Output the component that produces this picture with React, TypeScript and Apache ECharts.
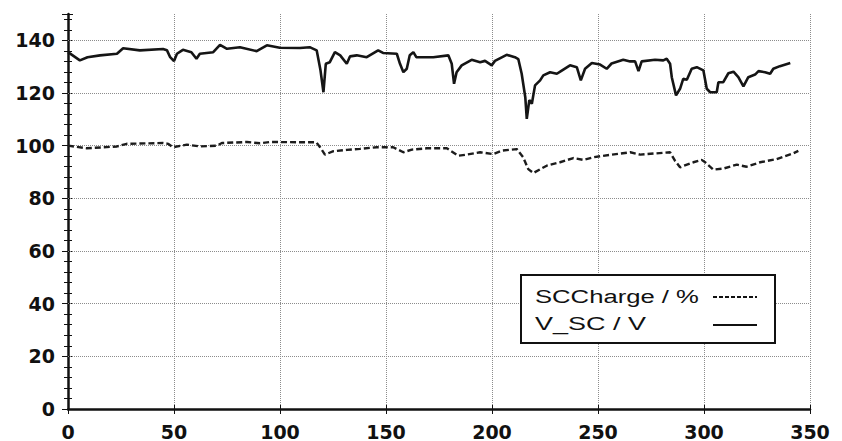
import React, { useEffect, useRef } from "react";
import * as echarts from "echarts";

// Axis ticks
const xTicks = [0, 50, 100, 150, 200, 250, 300, 350];
const yTicks = [0, 20, 40, 60, 80, 100, 120, 140];

// V_SC / V (solid line)
const vscX = [0, 5.6, 9.2, 15.1, 23.1, 26.0, 33.9, 44.8, 46.7, 48.2, 50.0, 51.4, 54.2, 58.2, 60.6, 62.2, 68.5, 71.7, 75.0, 81.1, 89.0, 93.8, 99.9, 109.4, 114.0, 117.3, 119.1, 120.5, 121.6, 123.5, 125.9, 128.4, 131.5, 133.0, 136.2, 140.9, 146.3, 148.6, 155.1, 156.6, 158.2, 159.8, 161.2, 162.9, 164.3, 172.3, 179.4, 181.0, 182.1, 183.3, 185.7, 190.4, 194.4, 196.7, 199.9, 201.4, 206.9, 210.8, 212.4, 214.0, 215.7, 216.4, 217.6, 218.8, 220.3, 222.7, 224.2, 227.4, 230.6, 232.9, 236.8, 240.0, 241.9, 243.9, 247.1, 251.0, 254.1, 256.4, 261.9, 265.2, 267.5, 269.1, 270.6, 276.9, 280.8, 282.4, 284.0, 284.8, 286.8, 288.7, 290.2, 291.9, 294.2, 296.6, 299.7, 301.3, 302.9, 306.0, 306.8, 309.1, 311.5, 313.9, 316.2, 318.6, 320.9, 324.1, 325.7, 328.8, 331.2, 332.7, 335.8, 340.7];
const vscY = [135.5, 132.4, 133.6, 134.3, 134.9, 137, 136.2, 136.7, 136.2, 133.6, 132.1, 134.9, 136.4, 135.5, 133, 134.9, 135.5, 138.3, 136.8, 137.4, 135.9, 138.1, 137.2, 137.1, 137.4, 136.2, 128.6, 120.3, 131.1, 131.7, 135.5, 134.3, 131.1, 133.9, 134.3, 133.6, 136.2, 135.2, 134.9, 131.1, 127.9, 129.2, 134.3, 135.5, 133.6, 133.6, 134.3, 131.1, 123.5, 127.9, 130.5, 132.6, 131.7, 132.2, 130.5, 132.2, 134.5, 133.6, 132.9, 127.3, 118.4, 110.2, 117.3, 115.9, 122.9, 124.8, 126.7, 127.9, 127.3, 128.5, 130.5, 129.8, 124.8, 129.2, 131.4, 130.8, 129.2, 131.2, 132.6, 132, 132, 128.3, 132, 132.6, 132.4, 133, 131.1, 126, 119.1, 121.6, 125.4, 125, 129.2, 129.8, 128.6, 121.6, 120.3, 120.3, 124.1, 124.1, 127.5, 128.1, 126, 122.5, 126, 127, 128.3, 127.9, 127.3, 129.2, 130.2, 131.4];

// SCCharge / % (dashed line)
const chargeX = [0, 8.8, 23.1, 27.7, 44.8, 47.2, 49.5, 56.1, 62.2, 70.2, 72.6, 84.4, 90.6, 95.3, 109.5, 117.1, 118.9, 121.2, 125.2, 131.5, 137.7, 145.6, 153.4, 158.2, 162.2, 169.2, 178.7, 184.1, 188.0, 194.4, 200.6, 204.6, 211.7, 214.7, 217.1, 219.5, 225.8, 232.1, 238.4, 243.1, 247.8, 255.7, 265.2, 269.9, 284.0, 286.3, 288.7, 295.0, 298.9, 300.5, 304.4, 309.1, 315.5, 320.1, 326.5, 334.3, 342.2, 344.5];
const chargeY = [100, 99, 99.7, 100.7, 101, 100.7, 99.4, 100.4, 99.7, 100, 101, 101.4, 100.9, 101.4, 101.3, 101.3, 99.4, 96.6, 97.9, 98.4, 98.8, 99.4, 99.4, 97.5, 98.5, 99, 99, 96.2, 96.6, 97.5, 96.8, 98.1, 98.7, 95.6, 91.1, 89.6, 92.4, 93.7, 95.3, 94.6, 95.6, 96.5, 97.5, 96.6, 97.5, 94.3, 91.8, 93.7, 94.6, 93.7, 90.9, 91.3, 92.8, 92, 93.7, 94.9, 97.1, 98];

const legendLabels = ["SCCharge / %", "V_SC / V"];

export default function App() {
  const ref = useRef<HTMLDivElement>(null);
  useEffect(() => {
    document.body.style.margin = "0";
    const chart = echarts.init(ref.current!, null, { renderer: "svg" });
    const labelFont = {
      fontFamily: "DejaVu Sans",
      fontWeight: "bold" as const,
      fontSize: 19,
      color: "#111",
    };
    const gridColor = "#8c8c8c";
    const yMin = yTicks[0];
    const yMax = 150;
    const xMin = xTicks[0];
    const xMax = xTicks[xTicks.length - 1];
    const xInt = xTicks[1] - xTicks[0];
    const yInt = yTicks[1] - yTicks[0];
    chart.setOption({
      animation: false,
      backgroundColor: "#fff",
      grid: {
        left: 68,
        top: 14,
        right: 32,
        bottom: 32,
        containLabel: false,
        outerBoundsMode: "none",
      },
      xAxis: [
        {
          type: "value",
          min: xMin,
          max: xMax,
          interval: xInt,
          axisLine: { show: true, onZero: false, lineStyle: { color: "#111", width: 2.5 } },
          axisTick: { show: true, length: 5, lineStyle: { color: "#111", width: 1 } },
          axisLabel: { ...labelFont, margin: 13, hideOverlap: false },
          splitLine: { show: true, lineStyle: { color: gridColor, type: "dotted", width: 1 } },
        },
        {
          type: "value",
          position: "bottom",
          min: xMin,
          max: xMax,
          interval: xInt,
          axisLine: { show: false },
          axisTick: { show: true, inside: true, length: 4, lineStyle: { color: "#111", width: 1 } },
          axisLabel: { show: false },
          splitLine: { show: false },
        },
      ],
      yAxis: [
        {
          type: "value",
          min: yMin,
          max: yMax,
          interval: yInt,
          axisLine: { show: true, onZero: false, lineStyle: { color: "#111", width: 2.5 } },
          axisTick: { show: true, length: 6, lineStyle: { color: "#111", width: 1 } },
          minorTick: { show: true, splitNumber: 5, length: 4, lineStyle: { color: "#111", width: 1 } },
          axisLabel: {
            ...labelFont,
            margin: 13,
            formatter: (v: number) => (yTicks.includes(v) ? String(v) : ""),
          },
          splitLine: { show: false },
        },
        {
          type: "value",
          position: "left",
          min: yMin,
          max: yMax,
          interval: yInt,
          axisLine: { show: false },
          axisTick: { show: true, inside: true, length: 5, lineStyle: { color: "#111", width: 1 } },
          minorTick: { show: true, splitNumber: 5, length: 4, lineStyle: { color: "#111", width: 1 } },
          axisLabel: { show: false },
          splitLine: { show: false },
        },
      ],
      series: [
        {
          name: legendLabels[0],
          type: "line",
          data: chargeX.map((x, i) => [x, chargeY[i]]),
          showSymbol: false,
          symbol: "none",
          lineStyle: { color: "#1c1c1c", width: 2.4, type: [6, 3] },
          z: 3,
          markLine: {
            silent: true,
            symbol: "none",
            label: { show: false },
            lineStyle: { color: gridColor, type: "dotted", width: 1 },
            data: yTicks.filter((v) => v > 0).map((v) => ({ yAxis: v })),
            z: 1,
          },
        },
        {
          name: legendLabels[1],
          type: "line",
          data: vscX.map((x, i) => [x, vscY[i]]),
          showSymbol: false,
          symbol: "none",
          lineStyle: { color: "#151515", width: 2.6 },
          z: 3,
        },
      ],
      graphic: [
        {
          type: "rect",
          shape: { x: 521, y: 275, width: 254, height: 68 },
          style: { fill: "#fff", stroke: "#111", lineWidth: 2 },
          z: 10,
        },
        {
          type: "text",
          x: 535,
          y: 297,
          scaleX: 1.35,
          style: {
            text: legendLabels[0],
            fontFamily: "Liberation Sans",
            fontSize: 19,
            fill: "#111",
            verticalAlign: "middle",
          },
          z: 11,
        },
        {
          type: "text",
          x: 535,
          y: 323,
          scaleX: 1.42,
          style: {
            text: legendLabels[1],
            fontFamily: "Liberation Sans",
            fontSize: 19,
            fill: "#111",
            verticalAlign: "middle",
          },
          z: 11,
        },
        {
          type: "line",
          shape: { x1: 713, y1: 297, x2: 757, y2: 297 },
          style: { stroke: "#111", lineWidth: 2, lineDash: [4, 2] },
          z: 11,
        },
        {
          type: "line",
          shape: { x1: 713, y1: 325, x2: 757, y2: 325 },
          style: { stroke: "#111", lineWidth: 2 },
          z: 11,
        },
      ],
    });
    return () => chart.dispose();
  }, []);
  return (
    <div
      ref={ref}
      style={{ position: "absolute", left: 0, top: 0, width: 842, height: 441 }}
    />
  );
}
